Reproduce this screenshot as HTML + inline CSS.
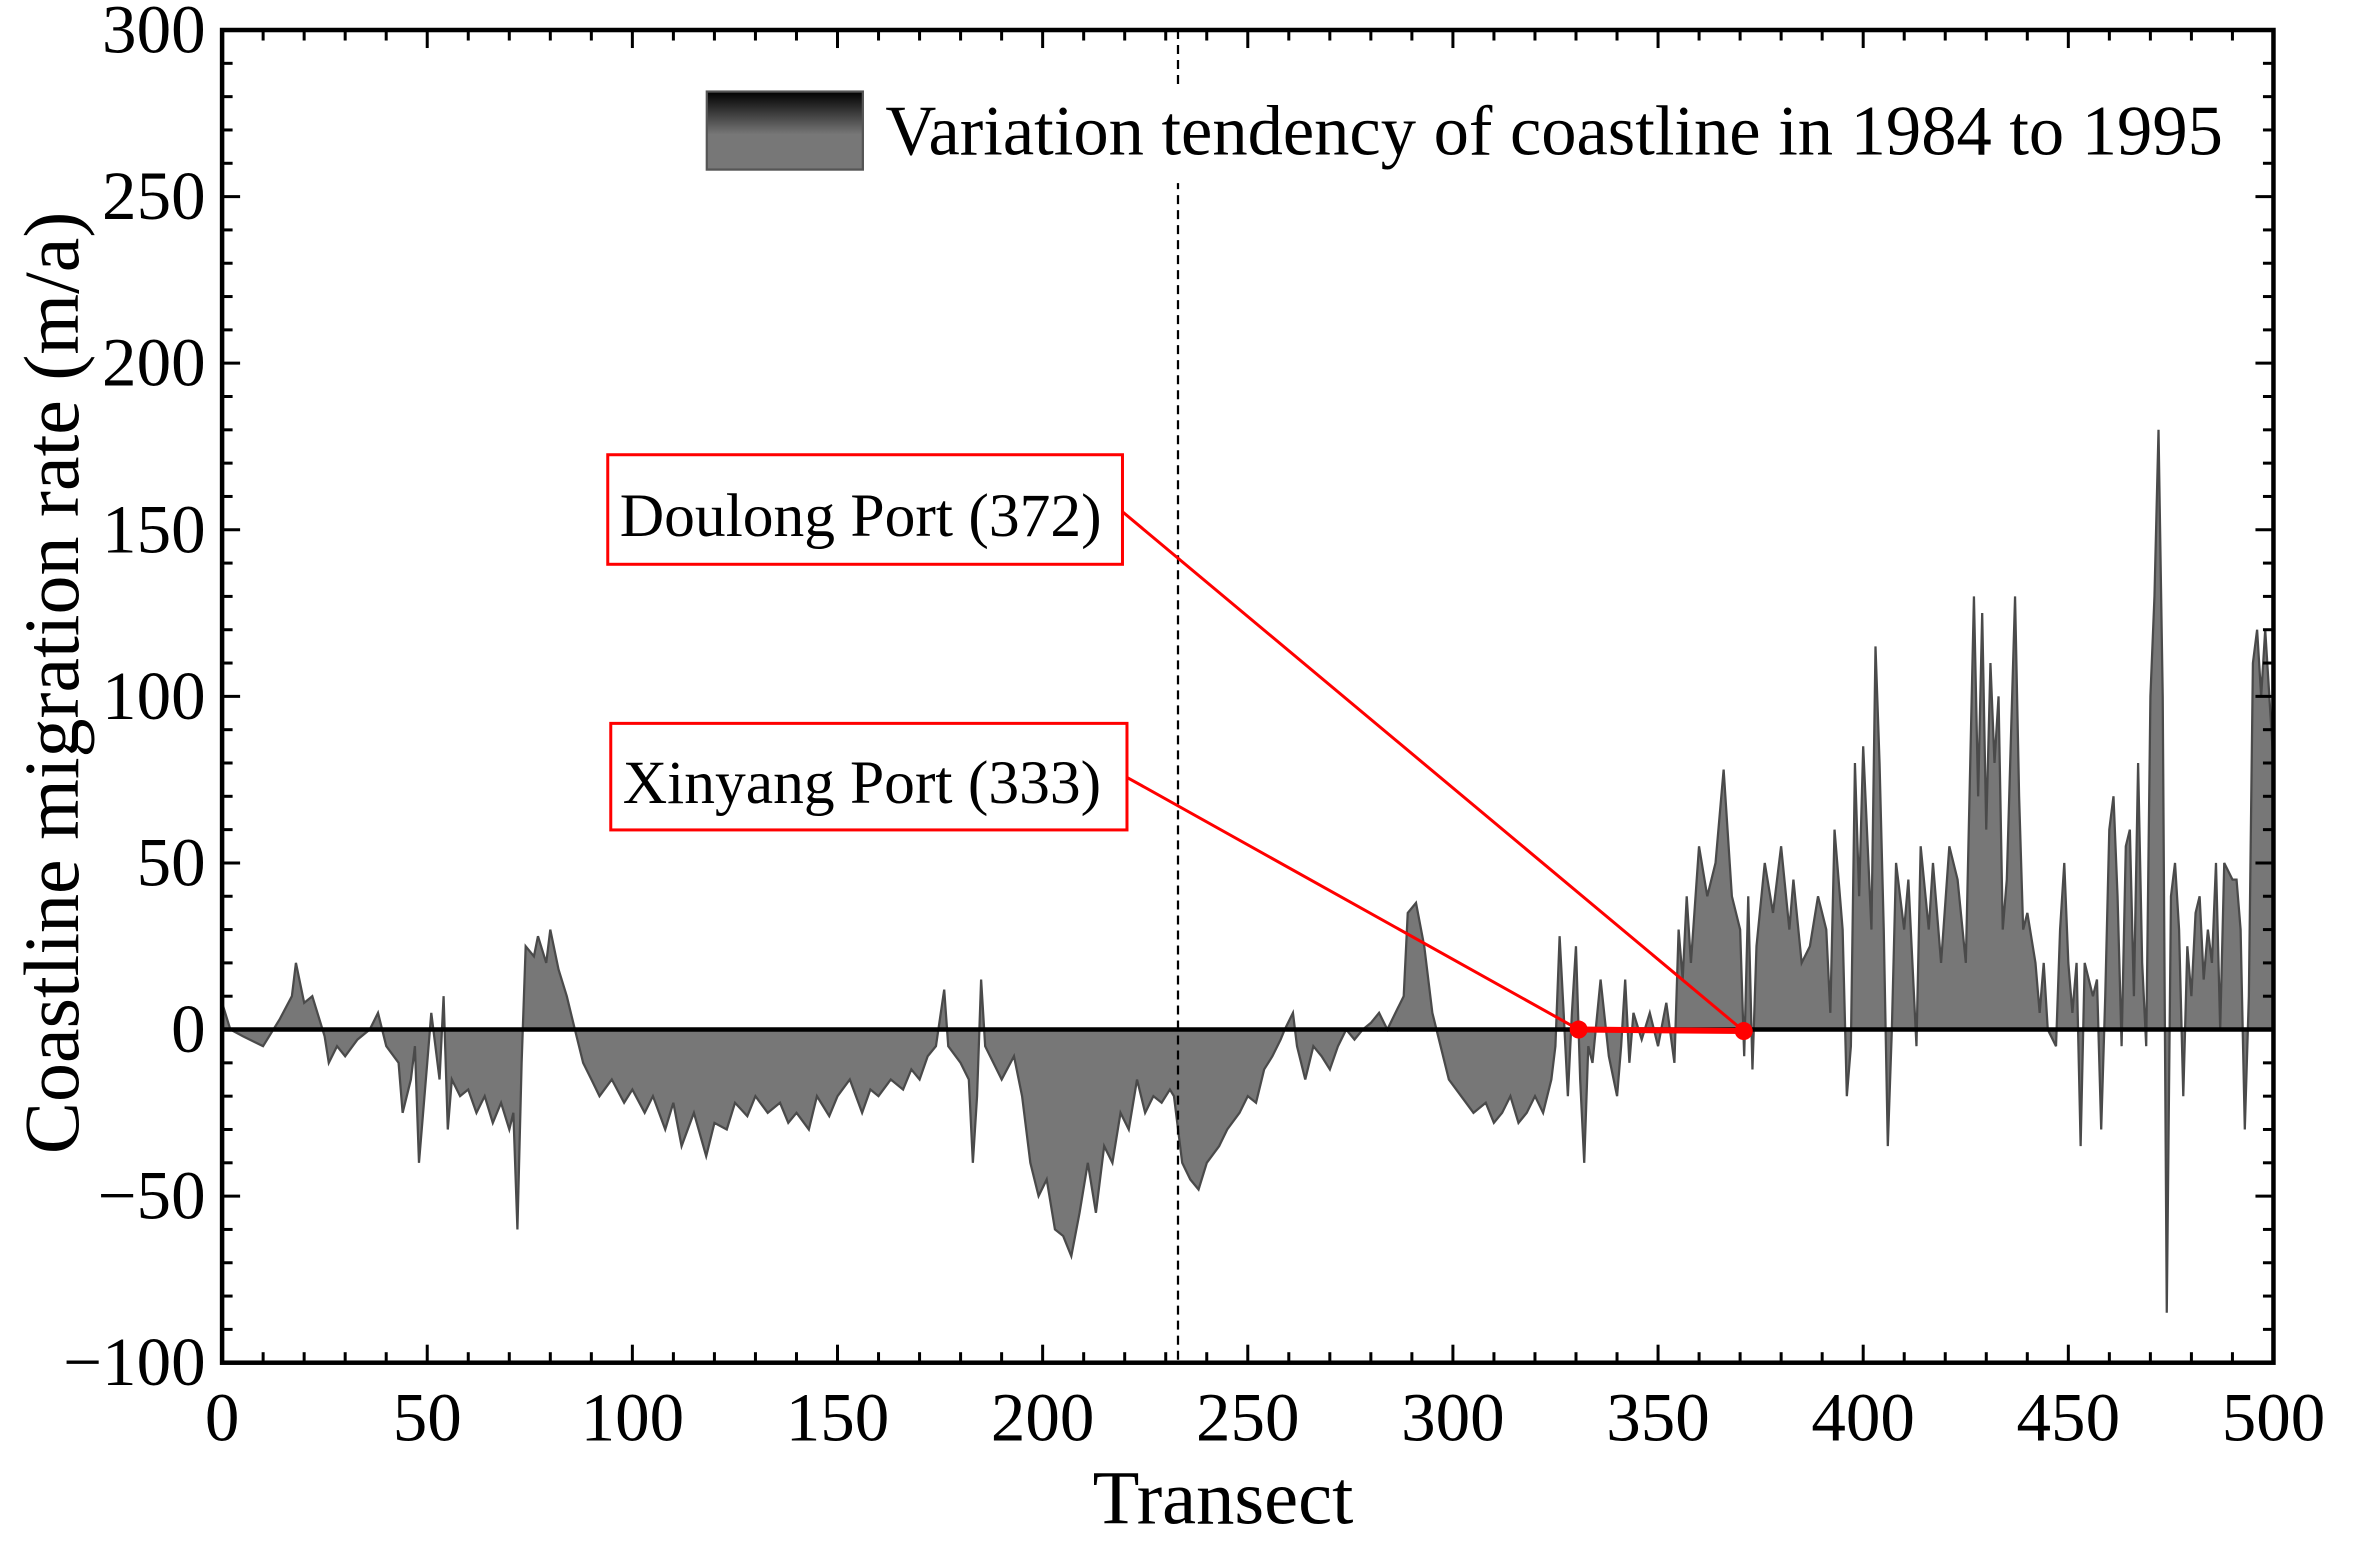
<!DOCTYPE html>
<html><head><meta charset="utf-8"><style>
html,body{margin:0;padding:0;background:#fff;}
svg{display:block;}
text{font-family:"Liberation Serif",serif;fill:#000;}
</style></head><body>
<svg id="s" width="2356" height="1556" viewBox="0 0 1570 1036.8" preserveAspectRatio="none" xmlns="http://www.w3.org/2000/svg">
<defs><linearGradient id="g" x1="0" y1="0" x2="0" y2="1"><stop offset="0" stop-color="#000"/><stop offset="0.55" stop-color="#777"/><stop offset="1" stop-color="#777"/></linearGradient></defs>
<g id="data"></g>
<line x1="148" y1="686" x2="1515" y2="686" stroke="#000" stroke-width="3"/>
<line x1="785" y1="20" x2="785" y2="908" stroke="#000" stroke-width="1.5" stroke-dasharray="6,4"/>
<rect x="440" y="56" width="1070" height="66" fill="#fff"/>
<rect x="471" y="61" width="104" height="52" fill="url(#g)" stroke="#555" stroke-width="1.5"/>
<text x="590" y="103" font-size="47">Variation tendency of coastline in 1984 to 1995</text>
<g id="ticks" stroke="#000" stroke-width="2"></g>
<rect x="148" y="20" width="1367" height="888" fill="none" stroke="#000" stroke-width="3"/>
<g id="labels" font-size="46"></g>
<text x="815" y="1015" font-size="51" text-anchor="middle">Transect</text>
<text transform="translate(52,455) rotate(-90)" font-size="52" text-anchor="middle">Coastline migration rate (m/a)</text>
<rect x="405" y="303" width="343" height="73" fill="#fff" stroke="#f00" stroke-width="2"/>
<text x="413" y="357" font-size="41">Doulong Port (372)</text>
<rect x="407" y="482" width="344" height="71" fill="#fff" stroke="#f00" stroke-width="2"/>
<text x="415" y="535" font-size="41">Xinyang Port (333)</text>
<line x1="748" y1="341" x2="1162" y2="687" stroke="#f00" stroke-width="2"/>
<line x1="751" y1="518" x2="1052" y2="686" stroke="#f00" stroke-width="2"/>
<line x1="1052" y1="686" x2="1162" y2="687" stroke="#f00" stroke-width="4"/>
<circle cx="1052" cy="686" r="6" fill="#f00"/>
<circle cx="1162" cy="687" r="6" fill="#f00"/>
</svg>
<script>
var d=[0,8,2,0,5,-2,10,-5,14,3,17,10,18,20,20,8,22,10,25,-2,26,-10,28,-5,30,-8,33,-3,36,0,38,5,40,-5,43,-10,44,-25,46,-15,47,-5,48,-40,50,-10,51,5,53,-15,54,10,55,-30,56,-15,58,-20,60,-18,62,-25,64,-20,66,-28,68,-22,70,-30,71,-25,72,-60,73,-10,74,25,76,22,77,28,79,20,80,30,82,18,84,10,86,0,88,-10,90,-15,92,-20,95,-15,98,-22,100,-18,103,-25,105,-20,108,-30,110,-22,112,-35,115,-25,118,-38,120,-28,123,-30,125,-22,128,-26,130,-20,133,-25,136,-22,138,-28,140,-25,143,-30,145,-20,148,-26,150,-20,153,-15,156,-25,158,-18,160,-20,163,-15,166,-18,168,-12,170,-15,172,-8,174,-5,176,12,177,-5,180,-10,182,-15,183,-40,184,-20,185,15,186,-5,188,-10,190,-15,193,-8,195,-20,197,-40,199,-50,201,-45,203,-60,205,-62,207,-68,209,-55,211,-40,213,-55,215,-35,217,-40,219,-25,221,-30,223,-15,225,-25,227,-20,229,-22,231,-18,232,-20,234,-40,236,-45,238,-48,240,-40,243,-35,245,-30,248,-25,250,-20,252,-22,254,-12,256,-8,258,-3,259,0,261,5,262,-5,264,-15,266,-5,268,-8,270,-12,272,-5,274,0,276,-3,278,0,280,2,282,5,284,0,286,5,288,10,289,35,291,38,293,25,295,5,297,-5,299,-15,302,-20,305,-25,308,-22,310,-28,312,-25,314,-20,316,-28,318,-25,320,-20,322,-25,324,-15,325,-5,326,28,327,5,328,-20,329,5,330,25,331,-15,332,-40,333,-5,334,-10,336,15,338,-8,340,-20,341,-5,342,15,343,-10,344,5,346,-3,348,5,350,-5,352,8,354,-10,355,30,356,15,357,40,358,20,360,55,362,40,364,50,366,78,368,40,370,30,371,-8,372,40,373,-12,374,25,376,50,378,35,380,55,382,30,383,45,385,20,387,25,389,40,391,30,392,5,393,60,395,30,396,-20,397,-5,398,80,399,40,400,85,402,30,403,115,404,80,405,30,406,-35,407,0,408,50,410,30,411,45,413,-5,414,55,416,30,417,50,419,20,421,55,423,45,425,20,427,130,428,70,429,125,430,60,431,110,432,80,433,100,434,30,435,45,437,130,438,70,439,30,440,35,442,20,443,5,444,20,445,0,447,-5,448,30,449,50,450,20,451,5,452,20,453,-35,454,20,456,10,457,15,458,-30,459,10,460,60,461,70,462,40,463,-5,464,55,465,60,466,10,467,80,468,20,469,-5,470,100,471,130,472,180,473,100,474,-85,475,40,476,50,477,30,478,-20,479,25,480,10,481,35,482,40,483,15,484,30,485,20,486,50,487,0,488,50,490,45,491,45,492,30,493,-30,494,10,495,110,496,120,497,100,498,120,500,80];
function X(t){return 148+t*1367/500}function Y(v){return 686-v*2.22}
var p="M"+X(0)+","+Y(0),l="";
for(var i=0;i<d.length;i+=2){p+=" L"+X(d[i]).toFixed(1)+","+Y(d[i+1]).toFixed(1);l+=(i?" L":"M")+X(d[i]).toFixed(1)+","+Y(d[i+1]).toFixed(1);}
p+=" L"+X(500)+","+Y(0)+"Z";
var NS="http://www.w3.org/2000/svg";
function el(n,a,par){var e=document.createElementNS(NS,n);for(var k in a)e.setAttribute(k,a[k]);document.getElementById(par).appendChild(e);return e;}
el("path",{d:p,fill:"#777",stroke:"none"},"data");
el("path",{d:l,fill:"none",stroke:"#4a4a4a","stroke-width":"1.5"},"data");
for(var t=0;t<=500;t+=10){var x=X(t),L=(t%50==0)?12:7;el("line",{x1:x,y1:908,x2:x,y2:908-L},"ticks");el("line",{x1:x,y1:20,x2:x,y2:20+L},"ticks");}
for(var v=-100;v<=300;v+=10){var y=Y(v),L=(v%50==0)?12:7;el("line",{x1:148,y1:y,x2:148+L,y2:y},"ticks");el("line",{x1:1515,y1:y,x2:1515-L,y2:y},"ticks");}
for(var t=0;t<=500;t+=50){var e=el("text",{x:X(t),y:960,"text-anchor":"middle"},"labels");e.textContent=t;}
for(var v=-100;v<=300;v+=50){var e=el("text",{x:137,y:Y(v)+15,"text-anchor":"end"},"labels");e.textContent=(v<0?"\u2212"+(-v):v);}
</script>
</body></html>
